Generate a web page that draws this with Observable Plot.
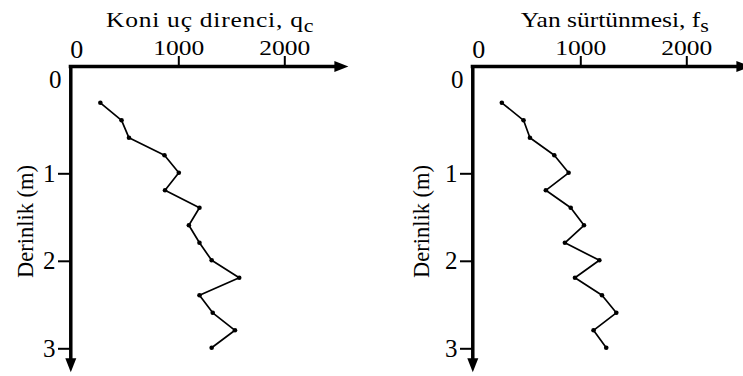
<!DOCTYPE html>
<html>
<head>
<meta charset="utf-8">
<script src="https://cdn.jsdelivr.net/npm/d3@7"></script>
<script src="https://cdn.jsdelivr.net/npm/@observablehq/plot@0.6"></script>
<style>
  html, body { margin: 0; padding: 0; overflow: hidden; background: #fff; }
  #charts { display: flex; width: 743px; height: 376px; overflow: hidden; }
  #charts svg { display: block; flex: none; }
</style>
</head>
<body>
<div id="charts"></div>
<script>
// CPT profile: cone tip resistance and sleeve friction versus depth
const depth = [0.2, 0.4, 0.6, 0.8, 1.0, 1.2, 1.4, 1.6, 1.8, 2.0, 2.2, 2.4, 2.6, 2.8, 3.0];
const qc = [260, 460, 530, 865, 1000, 870, 1195, 1095, 1195, 1310, 1570, 1195, 1320, 1530, 1310];
const fs = [255, 460, 520, 750, 885, 670, 905, 1030, 850, 1175, 945, 1200, 1335, 1120, 1240];

const valueTicks = [1000, 2000];
const depthTicks = [1, 2, 3];
const depthLabel = "Derinlik (m)";

const FONT = "'Liberation Serif', 'Times New Roman', Times, serif";
const STRETCH = 1.16; // horizontal widening of the lettering

// Filled arrowhead whose tip sits on the anchor point, pointing right
const arrowHead = {
  draw(ctx) {
    ctx.moveTo(0, 0);
    ctx.lineTo(-14, -5.5);
    ctx.lineTo(-14, 5.5);
    ctx.closePath();
  }
};

// Axis extents (data units): the axes start slightly above/left of the origin
const axisValueStart = -19;
const axisValueEnd = 2600;
const axisDepthStart = -0.215;
const axisDepthEnd = 3.28;

function profile(values, title, sub, titleAt, titleSpacing, labelOffset) {
  const rows = depth.map((d, i) => ({depth: d, value: values[i]}));
  const plot = Plot.plot({
    width: 402, height: 376,
    marginLeft: 70, marginTop: 66, marginRight: 0, marginBottom: 0,
    style: {fontFamily: FONT, fontSize: "22px", color: "#000", background: "#fff", overflow: "visible"},
    x: {domain: [0, 2600], range: [72.3, 347.9]},
    y: {domain: [0, 3], range: [84.8, 347.3]},
    marks: [
      // value axis (top) with arrow
      Plot.ruleY([axisDepthStart], {x1: axisValueStart - 15, x2: axisValueEnd - 110, strokeWidth: 3.5, stroke: "#000"}),
      Plot.dot([0], {x: axisValueEnd, y: axisDepthStart, symbol: arrowHead, fill: "#000", stroke: null}),
      // depth axis (left) with arrow
      Plot.ruleX([axisValueStart], {y1: axisDepthStart, y2: axisDepthEnd - 0.13, strokeWidth: 3.5, stroke: "#000"}),
      Plot.dot([0], {x: axisValueStart, y: axisDepthEnd, symbol: arrowHead, rotate: 90, fill: "#000", stroke: null}),
      // value tick labels and tick marks
      Plot.axisX({anchor: "top", ticks: [0], tickSize: 0, tickPadding: 9, dx: 4, tickFormat: d => String(d), label: null, fontSize: 26}),
      Plot.axisX({anchor: "top", ticks: valueTicks, tickSize: 11, tickPadding: 1, tickFormat: d => String(d), label: null, fontSize: 22, strokeWidth: 2}),
      // depth tick labels and tick marks
      Plot.axisY({anchor: "left", ticks: [0], tickSize: 0, tickPadding: 9, dy: -5, tickFormat: d => String(d), fontSize: 25,
        label: depthLabel, labelAnchor: "center", labelOffset, labelArrow: "none"}),
      Plot.axisY({anchor: "left", ticks: depthTicks, tickSize: 12, tickPadding: 3, dy: 1, tickFormat: d => String(d), fontSize: 25, label: null, strokeWidth: 2}),
      // profile
      Plot.line(rows, {x: "value", y: "depth", stroke: "#000", strokeWidth: 1.7}),
      Plot.dot(rows, {x: "value", y: "depth", r: 2.3, fill: "#000", stroke: null})
    ]
  });
  const svg = d3.select(plot);
  // widen the value tick labels about their anchor
  svg.selectAll("text").filter(function() { return ["1000", "2000"].includes(this.textContent); })
    .attr("transform", function() { return this.getAttribute("transform") + ` scale(${STRETCH},1)`; });
  svg.selectAll("text").filter(function() { return this.textContent === depthLabel; })
    .attr("font-size", 22.5);
  // title with subscript
  const x = plot.scale("x");
  const t = svg.append("text")
    .attr("transform", `translate(${x.apply(titleAt)},27) scale(${STRETCH},1)`)
    .attr("text-anchor", "middle")
    .attr("font-family", FONT)
    .attr("font-size", 22)
    .attr("letter-spacing", titleSpacing)
    .attr("fill", "#000");
  t.append("tspan").text(title);
  t.append("tspan").attr("font-size", 19).attr("dy", 5).text(sub);
  return plot;
}

const root = document.getElementById("charts");
root.append(profile(qc, "Koni uç direnci, q", "c", 1300, 0.65, 53));
root.append(profile(fs, "Yan sürtünmesi, f", "s", 1325, 0, 59));
</script>
</body>
</html>
